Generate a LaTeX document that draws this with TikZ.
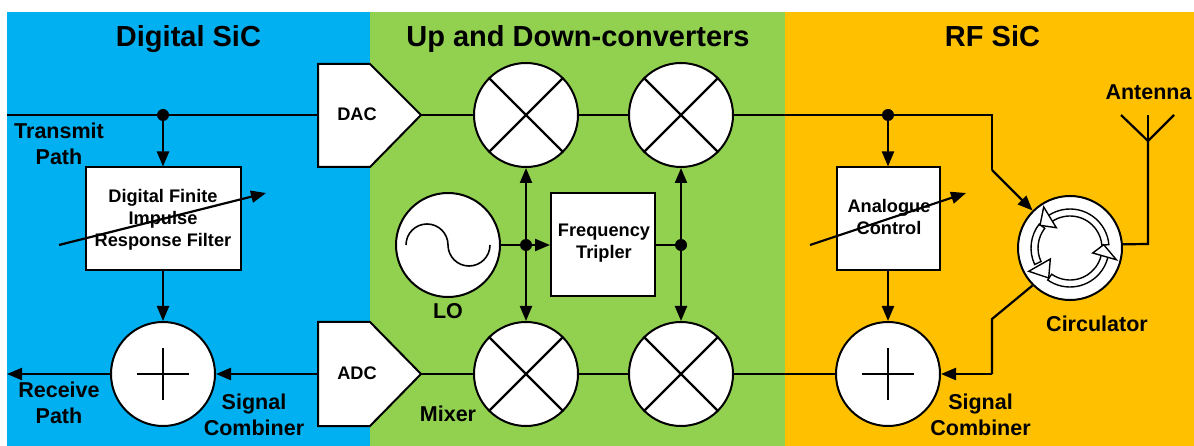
\documentclass[tikz,border=0pt]{standalone}
\usepackage{fontspec}
\setmainfont{Liberation Sans}
\usetikzlibrary{arrows.meta,calc}
\definecolor{pblue}{RGB}{0,176,240}
\definecolor{pgreen}{RGB}{146,208,80}
\definecolor{pyellow}{RGB}{255,192,0}
\tikzset{
 wire/.style={line width=2.2pt,black,line join=miter},
 arr/.style={wire,-{Triangle[length=15pt,width=12pt]}},
 blockbox/.style={draw=black,fill=white,line width=2pt,inner sep=0pt},
 conv/.style={draw=black,fill=white,line width=2pt,line join=miter},
 disc/.style={circle,draw=black,fill=white,line width=2pt,minimum size=104pt,inner sep=0pt},
 dotn/.style={circle,fill=black,minimum size=12pt,inner sep=0pt},
 title/.style={font=\bfseries\fontsize{29}{33}\selectfont,anchor=base},
 lab/.style={font=\bfseries\fontsize{21.5}{26.5}\selectfont,align=center},
 small/.style={font=\bfseries\fontsize{18.2}{22}\selectfont,align=center},
 ring/.style={draw=black,fill=white,line width=1.4pt,line join=miter},
}
\begin{document}
\begin{tikzpicture}[x=1pt,y=-1pt]
\useasboundingbox (0,0) rectangle (1194,446);
\fill[pblue] (7,12) rectangle (370,446);
\fill[pgreen] (370,12) rectangle (785,446);
\fill[pyellow] (785,12) rectangle (1194,446);
\node[title] (t1) at (188.5,46.5) {Digital SiC};
\node[title] (t2) at (578,46.5) {Up and Down-converters};
\node[title] (t3) at (992.5,46.5) {RF SiC};
% free ends and corners
\coordinate (txin) at (7,115);
\coordinate (rxout) at (7,374);
\coordinate (dacin) at (318,115);
\coordinate (dacout) at (421,115);
\coordinate (adcin) at (318,374);
\coordinate (adcout) at (421,374);
\coordinate (bendA) at (992,115);
\coordinate (bendB) at (992,170);
\coordinate (bendC) at (992,319);
\coordinate (bendD) at (992,374);
\coordinate (anttip) at (1148,141);
\coordinate (anttop) at (1148,115);
\coordinate (antL) at (1121,115);
\coordinate (antR) at (1174,115);
\coordinate (antfoot) at (1148,244);
\coordinate (firA) at (59,245);
\coordinate (firB) at (266,193);
\coordinate (anaA) at (810,245);
\coordinate (anaB) at (966,193);
% junction dots
\node[dotn] (d1) at (163,115) {};
\node[dotn] (d2) at (888,115) {};
\node[dotn] (d3) at (526,245) {};
\node[dotn] (d4) at (681,245) {};
% blocks
\node[disc] (m1) at (526,115) {};
\node[disc] (m2) at (681,115) {};
\node[disc] (m3) at (526,374) {};
\node[disc] (m4) at (681,374) {};
\node[disc] (lo) at (448,245) {};
\node[disc] (s1) at (163,374) {};
\node[disc] (s2) at (888,374) {};
\node[disc] (circ) at (1070,248) {};
\node[blockbox,minimum width=155pt,minimum height=103pt] (fir) at (163,219) {};
\node[blockbox,minimum width=103pt,minimum height=103pt] (ana) at (888,219) {};
\node[blockbox,minimum width=104pt,minimum height=103pt] (trip) at (603,245) {};
\node[small] (firtxt) at (163,220) {Digital Finite\\Impulse\\Response Filter};
\node[small] (anatxt) at (889,217) {Analogue\\Control};
\node[small] (triptxt) at (604,243) {Frequency\\Tripler};
% connectors
\draw[wire] (txin) -- (d1) -- (dacin);
\draw[wire] (dacout) -- (m1.west);
\draw[wire] (m1.east) -- (m2.west);
\draw[wire] (m2.east) -- (d2) -- (bendA) -- (bendB);
\draw[arr] (bendB) -- (circ.135);
\draw[arr] (d1) -- (fir.north);
\draw[arr] (d2) -- (ana.north);
\draw[arr] (fir.south) -- (s1.north);
\draw[arr] (ana.south) -- (s2.north);
\draw[wire] (adcout) -- (m3.west);
\draw[wire] (m3.east) -- (m4.west);
\draw[wire] (m4.east) -- (s2.west);
\draw[arr] (adcin) -- (s1.east);
\draw[arr] (s1.west) -- (rxout);
\draw[wire] (circ.225) -- (bendC) -- (bendD);
\draw[arr] (bendD) -- (s2.east);
\draw[wire] (lo.east) -- (d3);
\draw[arr] (d3) -- (trip.west);
\draw[wire] (trip.east) -- (d4);
\draw[arr] (d3) -- (m1.south);
\draw[arr] (d3) -- (m3.north);
\draw[arr] (d4) -- (m2.south);
\draw[arr] (d4) -- (m4.north);
\draw[wire] (circ.4) -- (antfoot) -- (anttip);
\draw[wire] (antL) -- (anttip) -- (antR);
\draw[wire] (anttip) -- (anttop);
\draw[arr] (firA) -- (firB);
\draw[arr] (anaA) -- (anaB);
% converters
\draw[conv] (318,64) -- (370,64) -- (dacout) -- (370,167) -- (318,167) -- cycle;
\draw[conv] (318,322) -- (370,322) -- (adcout) -- (370,426) -- (318,426) -- cycle;
\node[small] (dac) at (357,114) {DAC};
\node[small] (adc) at (357,373) {ADC};
% mixer and combiner marks
\foreach \m in {m1,m2,m3,m4}{
 \draw[wire] (\m.45) -- (\m.225);
 \draw[wire] (\m.135) -- (\m.315);
}
\foreach \m in {s1,s2}{
 \draw[wire] ($(\m.center)+(-26,0)$) -- ($(\m.center)+(26,0)$);
 \draw[wire] ($(\m.center)+(0,-26)$) -- ($(\m.center)+(0,26)$);
}
% LO sine
\begin{scope}[shift={(lo.center)},yscale=-1]
 \draw[line width=1.6pt] (-42,0) arc[start angle=180,end angle=0,radius=21]
   arc[start angle=180,end angle=360,radius=21];
\end{scope}
% circulator
\begin{scope}[shift={(circ.center)},yscale=-1]
 \draw[ring] (125:32) arc[start angle=125,end angle=5,radius=32] -- (5:39) arc[start angle=5,end angle=125,radius=39] -- cycle;
 \draw[ring] (-8:32) arc[start angle=-8,end angle=-125,radius=32] -- (-125:39) arc[start angle=-125,end angle=-8,radius=39] -- cycle;
 \draw[ring] (205:32) arc[start angle=205,end angle=142,radius=32] -- (142:39) arc[start angle=142,end angle=205,radius=39] -- cycle;
 \draw[ring] (-26.3,41) -- (-13.7,20.3) -- (-30,22.7) -- cycle;
 \draw[ring] (46.3,-11.7) -- (33.7,3.3) -- (22.7,-5) -- cycle;
 \draw[ring] (-41.3,-23.3) -- (-19.7,-11) -- (-21.3,-30) -- cycle;
\end{scope}
% labels
\node[lab] (ltx) at (59,144) {Transmit\\Path};
\node[lab] (lrx) at (59,403) {Receive\\Path};
\node[lab] (lsc1) at (254,415) {Signal\\Combiner};
\node[lab] (lsc2) at (980.5,415) {Signal\\Combiner};
\node[lab] (llo) at (448,311) {LO};
\node[lab] (lmix) at (448,414) {Mixer};
\node[lab] (lcirc) at (1097,324) {Circulator};
\node[lab] (lant) at (1148.5,92) {Antenna};
\end{tikzpicture}
\end{document}
